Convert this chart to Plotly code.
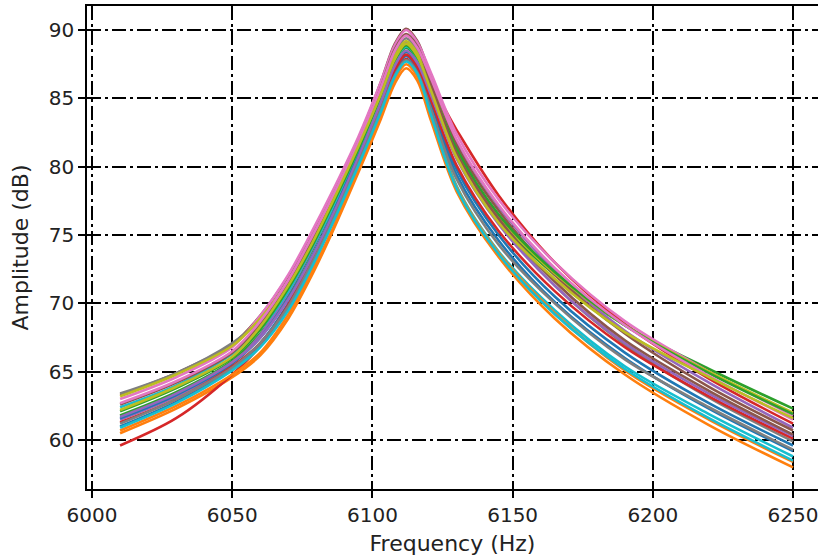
import plotly.graph_objects as go

# Frequency sample points (Hz)
freq = [6010, 6030, 6050, 6060, 6070, 6078, 6085, 6095, 6103, 6108, 6112, 6116, 6121, 6130, 6145, 6165, 6190, 6220, 6250]

# Amplitude curves (dB), one list per measurement
amp_00 = [61.0, 62.8, 65.2, 67.1, 70.0, 73.0, 76.0, 80.5, 84.6, 87.3, 88.4, 87.5, 84.5, 79.4, 74.6, 70.1, 66.0, 62.3, 59.2]
amp_01 = [60.5, 62.3, 64.6, 66.2, 68.9, 71.9, 74.9, 79.6, 83.5, 86.1, 87.2, 86.3, 83.3, 78.2, 73.4, 68.9, 64.8, 61.1, 58.0]
amp_02 = [61.8, 63.5, 65.8, 67.8, 70.7, 73.7, 76.6, 81.0, 85.0, 87.6, 88.7, 87.8, 85.4, 80.9, 76.1, 72.1, 68.4, 65.2, 62.3]
amp_03 = [59.6, 61.6, 64.8, 66.9, 69.9, 73.0, 75.9, 80.5, 84.3, 86.8, 87.9, 87.0, 85.9, 82.7, 77.9, 73.0, 68.5, 64.5, 61.2]
amp_04 = [61.5, 63.2, 65.6, 67.7, 70.8, 73.8, 76.7, 81.1, 85.2, 88.0, 89.1, 88.2, 86.2, 81.9, 77.1, 72.4, 68.0, 64.2, 60.9]
amp_05 = [63.3, 64.9, 67.0, 69.1, 72.0, 74.9, 77.8, 82.0, 86.2, 89.0, 90.1, 89.2, 86.5, 81.6, 76.8, 72.1, 67.8, 63.9, 60.7]
amp_06 = [63.0, 64.6, 66.8, 69.1, 72.1, 75.1, 77.9, 82.2, 86.2, 88.9, 90.0, 89.1, 86.8, 82.4, 77.6, 73.0, 68.7, 65.0, 61.8]
amp_07 = [63.4, 64.9, 67.1, 68.8, 71.5, 74.4, 77.3, 81.6, 85.6, 88.3, 89.4, 88.5, 85.8, 80.8, 76.0, 71.3, 67.0, 63.1, 59.9]
amp_08 = [63.2, 64.8, 66.9, 68.9, 71.6, 74.6, 77.4, 81.7, 85.6, 88.1, 89.2, 88.3, 85.9, 81.2, 76.4, 72.2, 68.4, 65.0, 62.0]
amp_09 = [62.4, 64.0, 66.3, 68.1, 70.9, 73.9, 76.7, 81.2, 85.1, 87.7, 88.8, 87.9, 84.3, 78.6, 73.8, 69.5, 65.4, 61.9, 58.8]
amp_10 = [61.6, 63.3, 65.6, 67.5, 70.4, 73.3, 76.2, 80.8, 84.5, 87.0, 88.1, 87.2, 84.6, 79.8, 75.0, 70.5, 66.4, 62.7, 59.6]
amp_11 = [60.7, 62.5, 64.8, 66.4, 69.2, 72.2, 75.1, 79.9, 83.8, 86.4, 87.5, 86.6, 83.6, 78.5, 73.7, 69.3, 65.1, 61.5, 58.4]
amp_12 = [62.1, 63.8, 66.0, 68.1, 71.1, 74.0, 76.9, 81.3, 85.2, 87.8, 88.9, 88.0, 85.8, 81.3, 76.5, 72.3, 68.4, 64.9, 61.9]
amp_13 = [61.3, 63.0, 65.4, 67.1, 69.7, 72.7, 75.6, 80.3, 84.3, 87.1, 88.2, 87.3, 84.8, 80.1, 75.3, 70.9, 66.8, 63.2, 60.1]
amp_14 = [61.7, 63.4, 65.7, 67.5, 70.3, 73.2, 76.1, 80.7, 84.7, 87.4, 88.5, 87.6, 85.2, 80.6, 75.8, 71.3, 67.1, 63.4, 60.3]
amp_15 = [62.6, 64.2, 66.4, 68.5, 71.5, 74.4, 77.3, 81.6, 85.8, 88.6, 89.7, 88.8, 86.0, 81.0, 76.2, 71.6, 67.3, 63.6, 60.4]
amp_16 = [62.7, 64.3, 66.5, 68.7, 71.7, 74.7, 77.5, 81.8, 85.8, 88.5, 89.6, 88.7, 86.4, 82.0, 77.2, 72.6, 68.4, 64.7, 61.5]
amp_17 = [61.2, 63.0, 65.3, 67.1, 69.8, 72.8, 75.7, 80.3, 84.2, 86.7, 87.8, 86.9, 84.1, 79.1, 74.3, 70.0, 65.9, 62.4, 59.3]
amp_18 = [62.2, 63.9, 66.1, 68.3, 71.3, 74.2, 77.1, 81.5, 85.3, 87.9, 89.0, 88.1, 85.5, 80.7, 75.9, 71.8, 67.9, 64.6, 61.6]
amp_19 = [60.9, 62.7, 65.1, 66.8, 69.5, 72.5, 75.5, 80.1, 84.0, 86.6, 87.7, 86.8, 83.7, 78.4, 73.6, 69.2, 65.2, 61.6, 58.5]

curves = [amp_00, amp_01, amp_02, amp_03, amp_04, amp_05, amp_06, amp_07, amp_08, amp_09,
          amp_10, amp_11, amp_12, amp_13, amp_14, amp_15, amp_16, amp_17, amp_18, amp_19]

x_ticks = [6000, 6050, 6100, 6150, 6200, 6250]
y_ticks = [60, 65, 70, 75, 80, 85, 90]

palette = ["#1f77b4", "#ff7f0e", "#2ca02c", "#d62728", "#9467bd",
           "#8c564b", "#e377c2", "#7f7f7f", "#bcbd22", "#17becf"]

fig = go.Figure()
for i, amp in enumerate(curves):
    fig.add_trace(go.Scatter(
        x=freq, y=amp, mode="lines",
        line=dict(color=palette[i % 10], width=2.6, shape="spline", smoothing=0.9),
        showlegend=False, hoverinfo="skip"))

font_family = "DejaVu Sans"
fs = 22
tfs = 20
fig.update_layout(
    width=818, height=559,
    margin=dict(l=87, r=0, t=6, b=70),
    paper_bgcolor="white", plot_bgcolor="white",
    font=dict(family=font_family, size=fs, color="#222222"),
)
fig.update_xaxes(
    range=[5998.2, 6258.9], automargin=False,
    tickmode="array", tickvals=x_ticks, ticktext=[str(v) for v in x_ticks],
    ticklabeloverflow="allow",
    ticks="outside", ticklen=7, tickwidth=1.5, tickcolor="black",
    showline=True, linecolor="black", linewidth=1.5, mirror=True,
    showgrid=True, gridcolor="black", gridwidth=2, griddash="14px,4px,3px,4px",
    zeroline=False,
    title=dict(text="Frequency (Hz)", font=dict(size=fs), standoff=10),
    tickfont=dict(size=tfs),
)
fig.update_yaxes(
    range=[56.42, 91.76], automargin=False,
    tickmode="array", tickvals=y_ticks, ticktext=[str(v) for v in y_ticks],
    ticks="outside", ticklen=7, tickwidth=1.5, tickcolor="black",
    showline=True, linecolor="black", linewidth=1.5, mirror=False,
    showgrid=True, gridcolor="black", gridwidth=2, griddash="14px,4px,3px,4px",
    zeroline=False,
    title=dict(text="Amplitude (dB)", font=dict(size=fs), standoff=14),
    tickfont=dict(size=tfs),
)

fig.write_html(
    "out.html",
    config={"displayModeBar": False},
    post_script="document.body.style.margin='0';document.body.style.overflow='hidden';",
)
